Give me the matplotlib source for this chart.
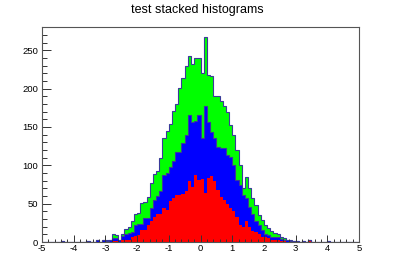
import numpy as np
import matplotlib
matplotlib.use("Agg")
import matplotlib.pyplot as plt
from matplotlib.ticker import MultipleLocator

plt.rcParams["font.family"] = ["Liberation Sans", "DejaVu Sans"]
plt.rcParams["axes.unicode_minus"] = False

# 100 bins from -5 to 5, counts (bottom -> top of stack)
edges = np.linspace(-5, 5, 101)

red = [
    0, 0, 0, 0, 0, 0, 0, 0, 0, 0,
    0, 0, 0, 0, 0, 0, 0, 0, 0, 0,
    0, 0, 1, 1, 0, 2, 2, 3, 7, 8,
    9, 16, 16, 22, 27, 33, 37, 37, 44, 42,
    54, 58, 61, 61, 62, 66, 79, 72, 87, 81,
    82, 64, 84, 86, 79, 68, 59, 55, 50, 44,
    40, 33, 22, 19, 27, 19, 14, 13, 11, 7,
    6, 5, 3, 2, 3, 1, 1, 0, 0, 0,
    0, 0, 0, 0, 1, 0, 0, 0, 0, 0,
    0, 0, 0, 0, 0, 0, 0, 0, 0, 0,
]
blue = [
    0, 0, 0, 0, 0, 0, 1, 0, 0, 0,
    0, 0, 0, 0, 1, 0, 0, 2, 0, 2,
    1, 2, 4, 4, 2, 6, 9, 9, 6, 14,
    14, 8, 15, 9, 17, 22, 23, 29, 43, 48,
    44, 47, 56, 56, 67, 74, 86, 85, 71, 84,
    54, 113, 73, 58, 57, 56, 64, 67, 63, 67,
    60, 48, 52, 42, 30, 27, 23, 14, 11, 9,
    5, 4, 4, 5, 4, 3, 2, 2, 1, 1,
    1, 0, 1, 0, 1, 0, 0, 0, 0, 0,
    1, 0, 0, 0, 0, 0, 0, 0, 0, 0,
]
green = [
    0, 0, 0, 0, 0, 0, 0, 0, 0, 0,
    0, 0, 0, 0, 0, 0, 0, 0, 0, 0,
    1, 1, 5, 4, 1, 3, 6, 7, 14, 14,
    15, 27, 21, 28, 33, 34, 32, 43, 48, 55,
    56, 66, 63, 84, 85, 89, 77, 75, 82, 75,
    84, 90, 61, 72, 55, 67, 61, 55, 57, 42,
    40, 39, 26, 9, 28, 24, 20, 21, 13, 13,
    11, 9, 7, 5, 3, 2, 2, 1, 1, 0,
    0, 0, 0, 0, 0, 0, 0, 0, 0, 0,
    0, 0, 0, 0, 0, 0, 0, 0, 0, 0,
]

title = "test stacked histograms"

fig = plt.figure(figsize=(4.0, 2.71), dpi=100)
ax = fig.add_axes([42 / 400, 29 / 271, 317 / 400, 215 / 271])

layer1 = np.array(red, dtype=float)
layer2 = layer1 + np.array(blue)
layer3 = layer2 + np.array(green)

line = "#3a3a9a"
ax.stairs(layer3, edges, fill=True, facecolor="#00ff00", edgecolor=line, linewidth=0.8)
ax.stairs(layer2, edges, fill=True, facecolor="#0000ff", edgecolor=line, linewidth=0.8)
ax.stairs(layer1, edges, fill=True, facecolor="#ff0000", edgecolor="none")

ax.set_xlim(-5, 5)
ax.set_ylim(0, layer3.max() * 1.05)

ax.xaxis.set_major_locator(MultipleLocator(1))
ax.xaxis.set_minor_locator(MultipleLocator(0.2))
ax.yaxis.set_major_locator(MultipleLocator(50))
ax.yaxis.set_minor_locator(MultipleLocator(10))

ax.tick_params(axis="both", which="both", direction="in", colors="#333333",
               labelcolor="black", labelsize=6.8, width=0.7)
ax.tick_params(axis="x", which="major", length=4.7, pad=1.5)
ax.tick_params(axis="x", which="minor", length=2.4)
ax.tick_params(axis="y", which="major", length=6.8, pad=2.9)
ax.tick_params(axis="y", which="minor", length=3.4)

for side in ax.spines.values():
    side.set_color("#555555")
    side.set_linewidth(0.8)

fig.text(197 / 400, 1 - 9.5 / 271, title, ha="center", va="center", fontsize=9)

fig.savefig("out.png", dpi=100)
